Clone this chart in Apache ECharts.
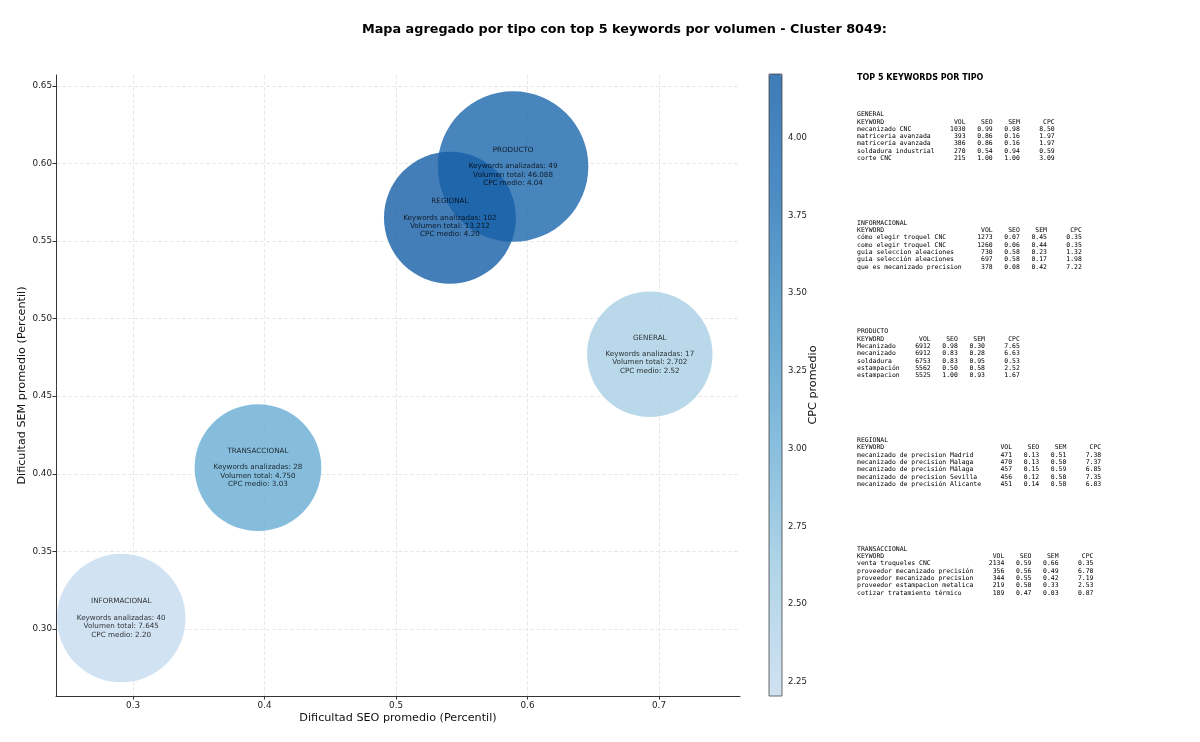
<!DOCTYPE html>
<html>
<head>
<meta charset="utf-8">
<script src="https://cdn.jsdelivr.net/npm/echarts@6/dist/echarts.min.js"></script>
<style>
html,body{margin:0;padding:0;background:#fff;}
#chart{width:1200px;height:742px;}
</style>
</head>
<body>
<div id="chart"></div>
<script>
// ---- bubble data (order as drawn) ----
const types   = ['GENERAL', 'INFORMACIONAL', 'PRODUCTO', 'REGIONAL', 'TRANSACCIONAL'];
const seoAvg  = [0.693, 0.291, 0.589, 0.541, 0.395];
const semAvg  = [0.477, 0.307, 0.598, 0.565, 0.404];
const cpcAvg  = [2.52, 2.20, 4.04, 4.20, 3.03];
const kwCount = [17, 40, 49, 102, 28];
const volTotal = [2702, 7645, 46088, 13212, 4750];

// ---- axis ticks ----
const xTicks = [0.3, 0.4, 0.5, 0.6, 0.7];
const yTicks = [0.30, 0.35, 0.40, 0.45, 0.50, 0.55, 0.60, 0.65];
const cbTicks = [2.25, 2.50, 2.75, 3.00, 3.25, 3.50, 3.75, 4.00];

// ---- top 5 keyword tables ----
const rowsGeneral = [
  ['mecanizado CNC', 1030, 0.99, 0.98, 8.50],
  ['matriceria avanzada', 393, 0.86, 0.16, 1.97],
  ['matricería avanzada', 386, 0.86, 0.16, 1.97],
  ['soldadura industrial', 270, 0.54, 0.94, 0.59],
  ['corte CNC', 215, 1.00, 1.00, 3.09]
];
const rowsInformacional = [
  ['cómo elegir troquel CNC', 1273, 0.07, 0.45, 0.35],
  ['como elegir troquel CNC', 1260, 0.06, 0.44, 0.35],
  ['guia seleccion aleaciones', 730, 0.58, 0.23, 1.32],
  ['guia selección aleaciones', 697, 0.58, 0.17, 1.98],
  ['que es mecanizado precision', 378, 0.08, 0.42, 7.22]
];
const rowsProducto = [
  ['Mecanizado', 6912, 0.98, 0.30, 7.65],
  ['mecanizado', 6912, 0.83, 0.28, 6.63],
  ['soldadura', 6753, 0.83, 0.95, 0.53],
  ['estampación', 5562, 0.50, 0.58, 2.52],
  ['estampacion', 5525, 1.00, 0.93, 1.67]
];
const rowsRegional = [
  ['mecanizado de precision Madrid', 471, 0.13, 0.51, 7.38],
  ['mecanizado de precision Malaga', 470, 0.13, 0.50, 7.37],
  ['mecanizado de precisión Málaga', 457, 0.15, 0.59, 6.85],
  ['mecanizado de precision Sevilla', 456, 0.12, 0.50, 7.35],
  ['mecanizado de precisión Alicante', 451, 0.14, 0.58, 6.83]
];
const rowsTransaccional = [
  ['venta troqueles CNC', 2134, 0.59, 0.66, 0.35],
  ['proveedor mecanizado precisión', 356, 0.56, 0.49, 6.70],
  ['proveedor mecanizado precision', 344, 0.55, 0.42, 7.19],
  ['proveedor estampacion metalica', 219, 0.50, 0.33, 2.53],
  ['cotizar tratamiento térmico', 189, 0.47, 0.03, 0.87]
];
const tableNames = ['GENERAL', 'INFORMACIONAL', 'PRODUCTO', 'REGIONAL', 'TRANSACCIONAL'];
const tableRows = [rowsGeneral, rowsInformacional, rowsProducto, rowsRegional, rowsTransaccional];

// ---- helpers ----
const FONT = 'DejaVu Sans';
function thousands(n) { return String(n).replace(/\B(?=(\d{3})+(?!\d))/g, '.'); }
function lpad(s, w) { s = String(s); while (s.length < w) s = ' ' + s; return s; }
function rpad(s, w) { s = String(s); while (s.length < w) s = s + ' '; return s; }
function buildTable(name, rows) {
  let w = 'KEYWORD'.length;
  rows.forEach(r => { w = Math.max(w, r[0].length); });
  const lines = [name];
  lines.push(rpad('KEYWORD', w) + lpad('VOL', 8) + lpad('SEO', 7) + lpad('SEM', 7) + lpad('CPC', 9));
  rows.forEach(r => {
    lines.push(rpad(r[0], w) + lpad(r[1], 8) + lpad(r[2].toFixed(2), 7) + lpad(r[3].toFixed(2), 7) + lpad(r[4].toFixed(2), 9));
  });
  return lines.join('\n');
}

const bubbleData = types.map((t, i) => [seoAvg[i], semAvg[i], cpcAvg[i], volTotal[i], kwCount[i], t]);

const cmapRaw = ['#c6dbef', '#9ecae1', '#6baed6', '#4292c6', '#2171b5', '#155ea6'];
const cmapShown = ['#d1e2f2', '#b1d5e7', '#89bede', '#68a8d1', '#4d8dc4', '#3f7cb8'];

const TABLE_LH = 7.33;
const graphics = [
  { type: 'text', left: 857, top: 73.5, z: 10,
    style: { text: 'TOP 5 KEYWORDS POR TIPO', font: 'bold 8px "DejaVu Sans"', fill: '#000' } },
  { type: 'rect', z: 10, silent: true,
    shape: { x: 769, y: 74, width: 13, height: 622 },
    style: { fill: 'none', stroke: '#444', lineWidth: 0.8 } }
];
tableNames.forEach((n, i) => {
  graphics.push({
    type: 'text', left: 857, top: 114.5 + i * 108.6 - TABLE_LH / 2, z: 10,
    style: { text: buildTable(n, tableRows[i]), fontFamily: 'DejaVu Sans Mono', fontSize: 6.45,
             lineHeight: TABLE_LH, fill: '#000' }
  });
});

const chart = echarts.init(document.getElementById('chart'), null, { renderer: 'canvas' });
chart.setOption({
  animation: false,
  backgroundColor: '#fff',
  textStyle: { fontFamily: FONT },
  title: {
    text: 'Mapa agregado por tipo con top 5 keywords por volumen - Cluster 8049:',
    left: 357, top: 18,
    textStyle: { fontFamily: FONT, fontSize: 12.8, fontWeight: 'bold', color: '#000' }
  },
  grid: [
    { left: 56, top: 75, width: 684, height: 621, containLabel: false },
    { left: 769, top: 74, width: 13, height: 622, containLabel: false }
  ],
  xAxis: [{
    gridIndex: 0, type: 'value', min: 0.2414, max: 0.7616,
    name: 'Dificultad SEO promedio (Percentil)', nameLocation: 'middle', nameGap: 17, nameMoveOverlap: false,
    nameTextStyle: { fontFamily: FONT, fontSize: 11.2, color: '#111' },
    axisLine: { show: true, onZero: false, lineStyle: { color: '#333', width: 1 } },
    axisTick: { show: true, customValues: xTicks, length: 3.5, lineStyle: { color: '#333' } },
    axisLabel: { customValues: xTicks, formatter: v => Number(v).toFixed(1), fontFamily: FONT, fontSize: 8.8, color: '#222', margin: 5 },
    splitLine: { show: true, lineStyle: { color: '#e3e3e3', type: [4, 2], width: 0.8 } }
  }, {
    gridIndex: 1, type: 'value', min: 0, max: 1, show: false
  }],
  yAxis: [{
    gridIndex: 0, type: 'value', min: 0.2568, max: 0.657,
    name: 'Dificultad SEM promedio (Percentil)', nameLocation: 'middle', nameGap: 28, nameMoveOverlap: false,
    nameTextStyle: { fontFamily: FONT, fontSize: 11.2, color: '#111' },
    axisLine: { show: true, onZero: false, lineStyle: { color: '#333', width: 1 } },
    axisTick: { show: true, customValues: yTicks, length: 3.5, lineStyle: { color: '#333' } },
    axisLabel: { customValues: yTicks, formatter: v => Number(v).toFixed(2), fontFamily: FONT, fontSize: 8.8, color: '#222', margin: 4 },
    splitLine: { show: true, lineStyle: { color: '#e3e3e3', type: [4, 2], width: 0.8 } }
  }, {
    gridIndex: 1, type: 'value', min: 2.205, max: 4.205, position: 'right',
    name: 'CPC promedio', nameLocation: 'middle', nameGap: 26, nameRotate: 90, nameMoveOverlap: false,
    nameTextStyle: { fontFamily: FONT, fontSize: 11.2, color: '#111' },
    axisLine: { show: false },
    axisTick: { show: true, customValues: cbTicks, length: 3.5, lineStyle: { color: '#333' } },
    axisLabel: { customValues: cbTicks, formatter: v => Number(v).toFixed(2), fontFamily: FONT, fontSize: 8.5, color: '#222', margin: 6 },
    splitLine: { show: false }
  }],
  visualMap: {
    type: 'continuous', seriesIndex: 0, dimension: 2,
    min: 2.205, max: 4.205, calculable: false, showLabel: false, text: null,
    left: 769, top: 74, padding: 0, itemWidth: 13, itemHeight: 622,
    inRange: { color: cmapRaw },
    controller: { inRange: { color: cmapShown } },
    hoverLink: false
  },
  series: [{
    type: 'scatter', xAxisIndex: 0, yAxisIndex: 0,
    data: bubbleData,
    symbolSize: v => Math.sqrt(15300 + 0.16 * v[3]),
    itemStyle: { opacity: 0.8 },
    label: {
      show: true, position: 'inside', color: '#000', fontFamily: FONT, fontSize: 7.2, lineHeight: 8.3, align: 'center',
      formatter: p => p.data[5] + '\n\nKeywords analizadas: ' + p.data[4] +
        '\nVolumen total: ' + thousands(p.data[3]) + '\nCPC medio: ' + p.data[2].toFixed(2)
    },
    emphasis: { disabled: true }
  }],
  graphic: graphics
});
</script>
</body>
</html>
